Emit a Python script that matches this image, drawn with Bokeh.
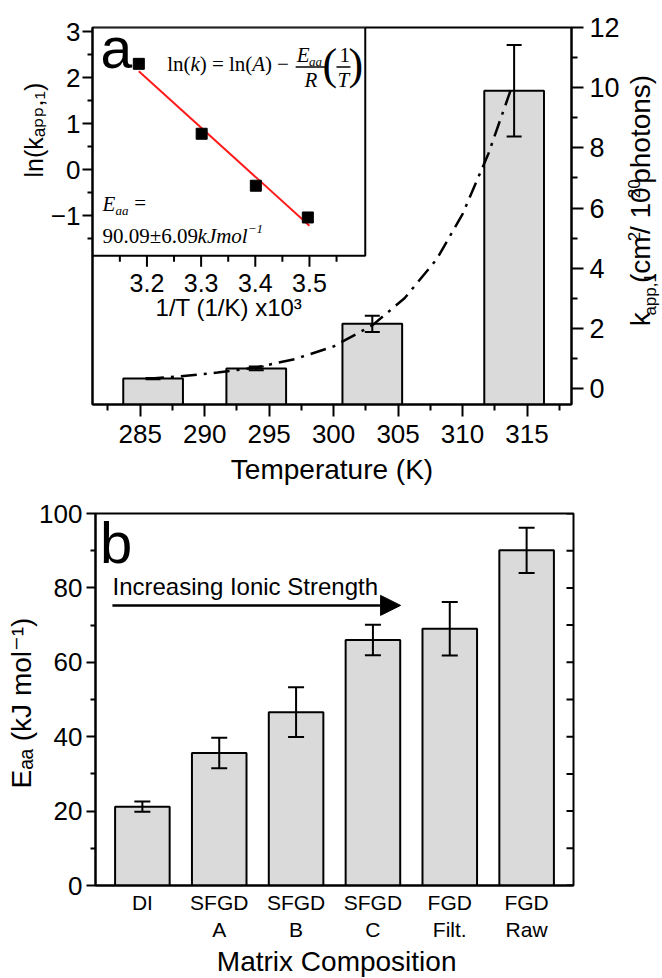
import math
from bokeh.plotting import figure
from bokeh.layouts import column, row
from bokeh.models import (Range1d, LinearAxis, FixedTicker, Whisker, TeeHead,
                          Arrow, NormalHead, Label, Title, ColumnDataSource)
from bokeh.core.properties import value
from bokeh.embed import file_html
from bokeh.resources import INLINE

# ------------------------------------------------------------------ data
# panel a: apparent rate constant vs temperature
temperature_K = [286, 294, 303, 314]
k_app1 = [0.33, 0.67, 2.15, 9.90]
k_app1_err = [0.02, 0.06, 0.27, 1.52]

# dash-dot exponential fit
curve_T = [285.6, 288.0, 291.0, 294.0, 297.0, 300.0, 303.0, 305.5, 308.0, 310.0, 312.0, 313.8]
curve_k = [0.33, 0.40, 0.53, 0.70, 0.98, 1.40, 2.10, 3.00, 4.30, 5.80, 7.80, 10.0]

# inset: Arrhenius plot
inv_T_x1e3 = [3.185, 3.301, 3.401, 3.497]
ln_k_app1 = [2.30, 0.78, -0.35, -1.04]
lin_fit_x = [3.185, 3.500]
lin_fit_y = [2.14, -1.22]

# panel b: activation energy vs matrix
matrix = ["DI", "SFGD\nA", "SFGD\nB", "SFGD\nC", "FGD\nFilt.", "FGD\nRaw"]
E_aa = [21.2, 35.6, 46.6, 66.0, 69.0, 90.1]
E_aa_err = [1.4, 4.1, 6.7, 4.1, 7.2, 6.1]

# tick values
temp_ticks = [285, 290, 295, 300, 305, 310, 315]
k_ticks = [0, 2, 4, 6, 8, 10, 12]
inset_x_ticks = [3.2, 3.3, 3.4, 3.5]
inset_y_ticks = [-1, 0, 1, 2, 3]
E_ticks = [0, 20, 40, 60, 80, 100]

# ------------------------------------------------------------------ style / layout
SANS = "Liberation Sans, DejaVu Sans, sans-serif"
SERIF = "Liberation Serif"
BAR = "#dadada"
W = 662
RT_W = 40                 # strip holding the right-hand axis title of panel a
W1 = W - RT_W

H1 = 492
A_L, A_R, A_T, A_B = 92, 573, 27, 404
XA = (281.3, 318.45)
YA = (-0.53, 12.0)
IX = (3.0995, 3.9837)
IY = (-5.106, 3.09)
INSET_BOX_X = (3.0995, 3.603)
INSET_BOX_Y = (-1.87, 3.09)

BT_H = 34                 # strip holding the x title of panel b
H2 = 978 - H1 - BT_H
B_L, B_R, B_T, B_B = 95, 573, 513, 885   # page coordinates
XB = (0.39, 6.61)
YB = (0, 100)

AW = {' ': .278, '(': .333, ')': .333, ',': .278, '-': .333, '.': .278, '/': .278,
      'a': .556, 'c': .5, 'h': .556, 'k': .5, 'l': .222, 'm': .833, 'n': .556,
      'o': .556, 'p': .556, 's': .5, 't': .278, 'x': .5}


def tw(s, size):
    return sum(AW.get(c, .556) for c in s) * size


def a_x(px):
    return XA[0] + (px - A_L) * (XA[1] - XA[0]) / (A_R - A_L)


def a_y(py):
    return YA[1] - (py - A_T) * (YA[1] - YA[0]) / (A_B - A_T)


def b_x(px):
    return XB[0] + (px - B_L) * (XB[1] - XB[0]) / (B_R - B_L)


def b_y(py):
    return YB[1] - (py - B_T) * (YB[1] - YB[0]) / (B_B - B_T)


def lab(p, cx, cy, px, base_py, text, size, font=SANS, style="normal", align="left"):
    """Place text so that its alphabetic baseline sits at base_py (page pixels)."""
    mid = 0.3375 if font == SERIF else 0.3465
    p.add_layout(Label(x=cx(px), y=cy(base_py - mid * size), text=text, text_font=font,
                       text_font_size=f"{size}px", text_font_style=style,
                       text_align=align, text_baseline="middle", text_color="black"))


def style_axis(a, size, tick_out, minor_out, standoff):
    a.axis_line_width = 2
    a.axis_line_color = "black"
    a.major_tick_line_width = 2
    a.minor_tick_line_width = 2
    a.major_tick_line_color = "black"
    a.minor_tick_line_color = "black"
    a.major_tick_out = tick_out
    a.major_tick_in = 0
    a.minor_tick_out = minor_out
    a.minor_tick_in = 0
    a.major_label_text_font = SANS
    a.major_label_text_font_size = f"{size}px"
    a.major_label_text_color = "black"
    a.major_label_standoff = standoff
    a.axis_label_text_font = SANS
    a.axis_label_text_font_style = "normal"
    a.axis_label_text_color = "black"


def strip(width, height, x0, x1, y0, y1):
    """Blank figure whose data coordinates are page pixels (for titles)."""
    s = figure(width=width, height=height, x_range=Range1d(x0, x1), y_range=Range1d(y1, y0),
               output_backend="svg", toolbar_location=None, title=None,
               x_axis_location=None, y_axis_location=None,
               min_border_left=0, min_border_right=0, min_border_top=0, min_border_bottom=0)
    s.xgrid.visible = False
    s.ygrid.visible = False
    s.outline_line_color = None
    s.background_fill_color = "white"
    s.border_fill_color = "white"
    return s


# ------------------------------------------------------------------ panel a
p1 = figure(width=W1, height=H1, x_range=Range1d(*XA), y_range=Range1d(*YA),
            output_backend="svg", toolbar_location=None, title=None,
            x_axis_location="below", y_axis_location=None,
            min_border_left=A_L, min_border_right=W1 - A_R,
            min_border_top=A_T, min_border_bottom=H1 - A_B)
p1.extra_x_ranges = {"ix": Range1d(*IX)}
p1.extra_y_ranges = {"iy": Range1d(*IY)}
p1.xgrid.visible = False
p1.ygrid.visible = False
p1.outline_line_color = "black"
p1.outline_line_width = 2
p1.background_fill_color = "white"
p1.border_fill_color = "white"

xa = p1.xaxis[0]
xa.ticker = FixedTicker(ticks=temp_ticks,
                        minor_ticks=[t + 2.5 for t in [280] + temp_ticks])
style_axis(xa, 26, 12, 6, 8)
xa.axis_label = "Temperature (K)"
xa.axis_label_text_font_size = "28px"
xa.axis_label_standoff = 8

ra = LinearAxis(ticker=FixedTicker(ticks=k_ticks, minor_ticks=[t + 1 for t in k_ticks[:-1]]))
style_axis(ra, 27, 12, 6, 6)
p1.add_layout(ra, "right")

la = LinearAxis(y_range_name="iy",
                ticker=FixedTicker(ticks=inset_y_ticks,
                                   minor_ticks=[t + 0.5 for t in [-2] + inset_y_ticks[:-1]]))
style_axis(la, 26, 10, 5, 2)
p1.add_layout(la, "left")
p1.add_layout(Title(text="ln(k\u2090\u209a\u209a,\u2081)", align="left", offset=227,
                    text_font=SANS, text_font_size="25px", text_font_style="normal",
                    text_color="black", standoff=0), "left")

# bars + error bars
p1.vbar(x=temperature_K, top=k_app1, bottom=YA[0], width=4.63,
        fill_color=BAR, line_color="black", line_width=2)
src_a = ColumnDataSource(dict(x=temperature_K,
                              upper=[k + e for k, e in zip(k_app1, k_app1_err)],
                              lower=[k - e for k, e in zip(k_app1, k_app1_err)]))
p1.add_layout(Whisker(source=src_a, base="x", upper="upper", lower="lower",
                      line_width=2, line_color="black", level="overlay",
                      upper_head=TeeHead(size=15, line_width=2, line_color="black"),
                      lower_head=TeeHead(size=15, line_width=2, line_color="black")))
p1.line(curve_T, curve_k, line_color="black", line_width=2.5, line_dash="16 7 3 7")

# inset
p1.quad(left=[INSET_BOX_X[0]], right=[INSET_BOX_X[1]],
        bottom=[INSET_BOX_Y[0]], top=[INSET_BOX_Y[1]],
        x_range_name="ix", y_range_name="iy",
        fill_color="white", line_color="black", line_width=2)
ipx = (IY[1] - IY[0]) / (A_B - A_T)   # inset y units per pixel
n = len(inset_x_ticks)
p1.segment(x0=inset_x_ticks, x1=inset_x_ticks, y0=[INSET_BOX_Y[0]] * n,
           y1=[INSET_BOX_Y[0] - 11 * ipx] * n, x_range_name="ix", y_range_name="iy",
           line_color="black", line_width=2)
minor_ix = [t - 0.05 for t in inset_x_ticks] + [inset_x_ticks[-1] + 0.05]
m = len(minor_ix)
p1.segment(x0=minor_ix, x1=minor_ix, y0=[INSET_BOX_Y[0]] * m,
           y1=[INSET_BOX_Y[0] - 6 * ipx] * m, x_range_name="ix", y_range_name="iy",
           line_color="black", line_width=2)
p1.text(x=inset_x_ticks, y=[INSET_BOX_Y[0] - 27 * ipx] * n,
        text=[f"{t:.1f}" for t in inset_x_ticks], x_range_name="ix", y_range_name="iy",
        text_font=value(SANS), text_font_size="25px", text_align="center",
        text_baseline="middle", text_color="black")
p1.line(lin_fit_x, lin_fit_y, x_range_name="ix", y_range_name="iy",
        line_color="#ff1a1a", line_width=2)
p1.scatter(inv_T_x1e3, ln_k_app1, x_range_name="ix", y_range_name="iy",
           marker="square", size=11, color="black")

# inset x title
lab(p1, a_x, a_y, (A_L + 366) / 2, 315, "1/T (1/K) x10\u00b3", 24, align="center")

# equation ln(k) = ln(A) - Eaa/R (1/T)
lab(p1, a_x, a_y, 167, 71, "ln(", 21, font=SERIF)
lab(p1, a_x, a_y, 190.3, 71, "k", 21, font=SERIF, style="italic")
lab(p1, a_x, a_y, 199.6, 71, ") = ln(", 21, font=SERIF)
lab(p1, a_x, a_y, 252.3, 71, "A", 21, font=SERIF, style="italic")
lab(p1, a_x, a_y, 265.1, 71, ") \u2212", 21, font=SERIF)
lab(p1, a_x, a_y, 297, 62, "E", 21, font=SERIF, style="italic")
lab(p1, a_x, a_y, 309.5, 65, "aa", 13, font=SERIF, style="italic")
lab(p1, a_x, a_y, 305, 87, "R", 21, font=SERIF, style="italic")
lab(p1, a_x, a_y, 323, 79, "(", 44, font=SERIF)
lab(p1, a_x, a_y, 340, 62, "1", 21, font=SERIF)
lab(p1, a_x, a_y, 338, 87, "T", 21, font=SERIF, style="italic")
lab(p1, a_x, a_y, 349, 79, ")", 44, font=SERIF)
p1.segment(x0=[a_x(296), a_x(337)], x1=[a_x(327), a_x(351)],
           y0=[a_y(66.5)] * 2, y1=[a_y(66.5)] * 2, line_color="black", line_width=1.5)

# Eaa = 90.09 +- 6.09 kJ/mol
lab(p1, a_x, a_y, 102, 211, "E", 21, font=SERIF, style="italic")
lab(p1, a_x, a_y, 115, 214, "aa", 13, font=SERIF, style="italic")
lab(p1, a_x, a_y, 134, 210, "=", 21, font=SERIF)
lab(p1, a_x, a_y, 102, 243, "90.09\u00b16.09", 21, font=SERIF)
lab(p1, a_x, a_y, 197.5, 243, "kJmol", 21, font=SERIF, style="italic")
lab(p1, a_x, a_y, 248, 233, "\u22121", 13, font=SERIF, style="italic")

lab(p1, a_x, a_y, 100, 67, "a.", 57)

# strip with the right-hand axis title (page-pixel coordinates)
prt = strip(RT_W, H1, W1, W, 0, H1)
rt_pieces = [("k", 28, 0), ("app,1", 17, -6), (" (cm", 28, 0), ("2", 17, 11),
             ("/ 10", 28, 0), ("20", 17, 11), (" photons)", 28, 0)]
base_x, py = 650, 390
for text, size, shift in rt_pieces:
    prt.add_layout(Label(x=base_x - shift - 0.3465 * size, y=py, text=text,
                         text_font=SANS, text_font_size=f"{size}px",
                         angle=math.pi / 2, text_align="left", text_baseline="middle",
                         text_color="black"))
    py -= tw(text, size)

# ------------------------------------------------------------------ panel b
pos = list(range(1, len(matrix) + 1))
p2 = figure(width=W, height=H2, x_range=Range1d(*XB), y_range=Range1d(*YB),
            output_backend="svg", toolbar_location=None, title=None,
            min_border_left=B_L, min_border_right=W - B_R,
            min_border_top=B_T - H1, min_border_bottom=H1 + H2 - B_B)
p2.xgrid.visible = False
p2.ygrid.visible = False
p2.outline_line_color = "black"
p2.outline_line_width = 2
p2.background_fill_color = "white"
p2.border_fill_color = "white"

ya = p2.yaxis[0]
ya.ticker = FixedTicker(ticks=E_ticks, minor_ticks=[t + 10 for t in E_ticks[:-1]])
style_axis(ya, 26, 9, 5, 4)
p2.add_layout(Title(text="E\u2090\u2090 (kJ mol\u207b\u00b9)", align="left", offset=B_B - 788,
                    text_font=SANS, text_font_size="28px", text_font_style="normal",
                    text_color="black", standoff=0), "left")

xb = p2.xaxis[0]
xb.ticker = FixedTicker(ticks=pos, minor_ticks=[])
style_axis(xb, 21, 0, 0, 5)
xb.major_label_overrides = {i: name for i, name in zip(pos, matrix)}

# inward ticks on right spine
bpx = (XB[1] - XB[0]) / (B_R - B_L)
all_E = E_ticks + [t + 10 for t in E_ticks[:-1]]
p2.segment(x0=[XB[1]] * len(all_E), x1=[XB[1] - 7 * bpx] * len(all_E),
           y0=all_E, y1=all_E, line_color="black", line_width=2)

p2.vbar(x=pos, top=E_aa, bottom=0, width=0.71, fill_color=BAR,
        line_color="black", line_width=2)
src_b = ColumnDataSource(dict(x=pos,
                              upper=[e + d for e, d in zip(E_aa, E_aa_err)],
                              lower=[e - d for e, d in zip(E_aa, E_aa_err)]))
p2.add_layout(Whisker(source=src_b, base="x", upper="upper", lower="lower",
                      line_width=2, line_color="black", level="overlay",
                      upper_head=TeeHead(size=16, line_width=2, line_color="black"),
                      lower_head=TeeHead(size=16, line_width=2, line_color="black")))

arrow_x = (0.61, 4.36)
arrow_y = 75.3
p2.add_layout(Arrow(x_start=arrow_x[0], y_start=arrow_y, x_end=arrow_x[1], y_end=arrow_y,
                    line_width=2.5, line_color="black",
                    end=NormalHead(size=20, fill_color="black", line_color="black", line_width=1)))
lab(p2, b_x, b_y, 112, 594, "Increasing Ionic Strength", 24)
lab(p2, b_x, b_y, 99.5, 562, "b", 58)

# strip with the x title of panel b (page-pixel coordinates)
pbt = strip(W, BT_H, 0, W, 978 - BT_H, 978)
pbt.add_layout(Label(x=(B_L + B_R) / 2, y=971 - 0.3465 * 28, text="Matrix Composition",
                     text_font=SANS, text_font_size="28px", text_align="center",
                     text_baseline="middle", text_color="black"))

layout = column(row(p1, prt, spacing=0), p2, pbt, spacing=0)
open("out.html", "w").write(file_html(layout, INLINE))
